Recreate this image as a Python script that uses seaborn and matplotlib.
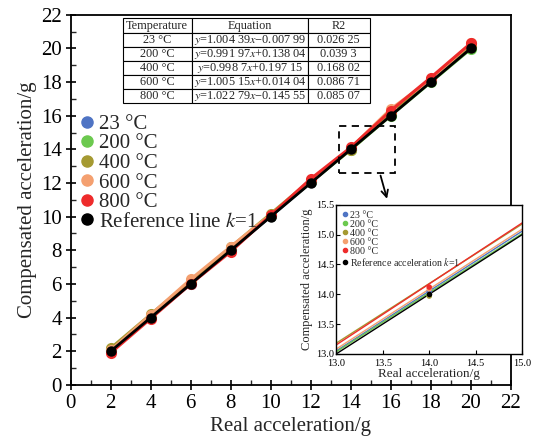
import numpy as np
import pandas as pd
import matplotlib
matplotlib.use("Agg")
import matplotlib.pyplot as plt
import seaborn as sns
from matplotlib.lines import Line2D
from matplotlib.patches import Rectangle

# ---------------- data ----------------
real = [2, 4, 6, 8, 10, 12, 14, 16, 18, 20]
t23 = [1.99, 4.02, 6.01, 8.04, 10.03, 12.05, 14.04, 16.07, 18.06, 20.08]
t200 = [2.12, 4.10, 6.09, 8.07, 10.06, 12.04, 13.98, 16.01, 17.99, 19.97]
t400 = [2.18, 4.19, 6.19, 8.19, 10.18, 12.17, 13.97, 16.17, 18.17, 20.17]
t600 = [2.05, 4.18, 6.28, 8.22, 10.12, 12.10, 14.09, 16.40, 18.15, 20.30]
t800 = [1.90, 3.94, 6.00, 7.92, 10.09, 12.25, 14.12, 16.30, 18.27, 20.31]
reference = [2, 4, 6, 8, 10, 12, 14, 16, 18, 20]

labels = ["23 °C", "200 °C", "400 °C", "600 °C", "800 °C"]
colors = ["#4f74c4", "#6cc94f", "#a59a32", "#f4a070", "#ee2b2b"]

temp_col = ["23 °C", "200 °C", "400 °C", "600 °C", "800 °C"]
eq_col = ["$y$=1.004 39$x$\u22120.007 99", "$y$=0.991 97$x$+0.138 04",
          "$y$=0.998 7$x$+0.197 15", "$y$=1.005 15$x$+0.014 04",
          "$y$=1.022 79$x$\u22120.145 55"]
r2_col = ["0.026 25", "0.039 3", "0.168 02", "0.086 71", "0.085 07"]
slopes = [1.00439, 0.99197, 0.9987, 1.00515, 1.02279]
intercepts = [-0.00799, 0.13804, 0.19715, 0.01404, -0.14555]

series = [t23, t200, t400, t600, t800]
df = pd.DataFrame({
    "real": np.tile(real, len(labels)),
    "comp": np.concatenate(series),
    "temp": np.repeat(labels, len(real)),
})
df_ref = pd.DataFrame({"real": real, "comp": reference})

# ---------------- style ----------------
sns.set_theme(style="ticks")
plt.rcParams["font.family"] = ["Liberation Serif", "DejaVu Serif"]
plt.rcParams["mathtext.fontset"] = "stix"
pal = dict(zip(labels, colors))

fig = plt.figure(figsize=(5.44, 4.48), dpi=100)
ax = fig.add_axes([0.130, 0.141, 0.809, 0.826])

sns.lineplot(data=df, x="real", y="comp", hue="temp", palette=pal, marker="o",
             markersize=8, markeredgewidth=0, linewidth=2.2, legend=False, ax=ax,
             errorbar=None, sort=False)
sns.lineplot(data=df_ref, x="real", y="comp", color="black", marker="o",
             markersize=7.5, markeredgewidth=0, linewidth=2, legend=False, ax=ax)

ax.set_xlim(0, 22)
ax.set_ylim(0, 22)
ax.set_xticks(range(0, 23, 2))
ax.set_yticks(range(0, 23, 2))
ax.set_xticks(range(1, 22, 2), minor=True)
ax.set_yticks(range(1, 22, 2), minor=True)
ax.tick_params(which="major", direction="inout", length=7, width=1.2, labelsize=15,
               colors="black", pad=3)
ax.tick_params(which="minor", direction="in", length=3.5, width=1.0)
for s in ax.spines.values():
    s.set_visible(True)
    s.set_linewidth(1.3)
    s.set_color("black")
ax.set_xlabel("Real acceleration/g", fontsize=15, labelpad=3)
ax.set_ylabel("Compensated acceleration/g", fontsize=15, labelpad=3)

handles = [Line2D([], [], marker="o", linestyle="", color=c, markersize=8) for c in colors]
handles.append(Line2D([], [], marker="o", linestyle="", color="black", markersize=8))
leg_labels = labels + ["Reference line $k$=1"]
ax.legend(handles, leg_labels, loc="upper left", bbox_to_anchor=(-0.005, 0.765),
          frameon=False, fontsize=15, handlelength=0.6, handletextpad=0.25,
          labelspacing=0.0, borderaxespad=0.2)

# table
cell_text = [[t, e, r] for t, e, r in zip(temp_col, eq_col, r2_col)]
tbl = ax.table(cellText=cell_text, colLabels=["Temperature", "Equation", "R2"],
               cellLoc="center", colWidths=[0.28, 0.47, 0.25],
               bbox=[0.118, 0.762, 0.561, 0.228])
tbl.auto_set_font_size(False)
tbl.set_fontsize(8.8)
for cell in tbl.get_celld().values():
    cell.set_linewidth(0.8)
    cell.set_edgecolor("black")
    cell.PAD = 0.02
    cell.get_text().set_fontfamily(["Liberation Serif"])

# dashed zoom rectangle and arrow
ax.add_patch(Rectangle((13.4, 12.6), 2.8, 2.8, fill=False, linestyle=(0, (4, 3)),
                       linewidth=1.3, edgecolor="black", zorder=5))
ax.annotate("", xy=(15.85, 10.9), xytext=(15.45, 12.6),
            arrowprops=dict(arrowstyle="->", color="black", lw=1.3))

# ---------------- inset ----------------
axin = fig.add_axes([0.618, 0.210, 0.342, 0.333])
for lab, c, a, b in zip(labels, colors, slopes, intercepts):
    axin.axline((0, b), slope=a, color=c, linewidth=1.0)
axin.axline((0, 0), slope=1, color="black", linewidth=1.0)
sns.scatterplot(data=df, x="real", y="comp", hue="temp", palette=pal, s=16,
                linewidth=0, legend=False, ax=axin, zorder=3)
sns.scatterplot(data=df_ref, x="real", y="comp", color="black", s=16,
                linewidth=0, legend=False, ax=axin, zorder=4)
axin.set_xlim(13.0, 15.0)
axin.set_ylim(13.0, 15.5)
axin.set_xticks([13.0, 13.5, 14.0, 14.5, 15.0])
axin.set_yticks([13.0, 13.5, 14.0, 14.5, 15.0, 15.5])
axin.xaxis.set_major_formatter(matplotlib.ticker.FormatStrFormatter("%.1f"))
axin.yaxis.set_major_formatter(matplotlib.ticker.FormatStrFormatter("%.1f"))
axin.tick_params(direction="in", length=3, width=0.8, labelsize=7.5, pad=1.5,
                 colors="black")
axin.tick_params(axis="x", pad=3.5)
for s in axin.spines.values():
    s.set_visible(True)
    s.set_linewidth(1.0)
    s.set_color("black")
axin.set_xlabel("Real acceleration/g", fontsize=9.5, labelpad=0)
axin.set_ylabel("Compensated acceleration/g", fontsize=9, labelpad=2)

h2 = [Line2D([], [], marker="o", linestyle="", color=c, markersize=3) for c in colors]
h2.append(Line2D([], [], marker="o", linestyle="", color="black", markersize=3))
axin.legend(h2, labels + ["Reference acceleration $k$=1"], loc="upper left",
            frameon=False, fontsize=7.2, handlelength=0.5, handletextpad=0.3,
            labelspacing=0.0, borderaxespad=0.2)

fig.savefig("out.png", dpi=100)
